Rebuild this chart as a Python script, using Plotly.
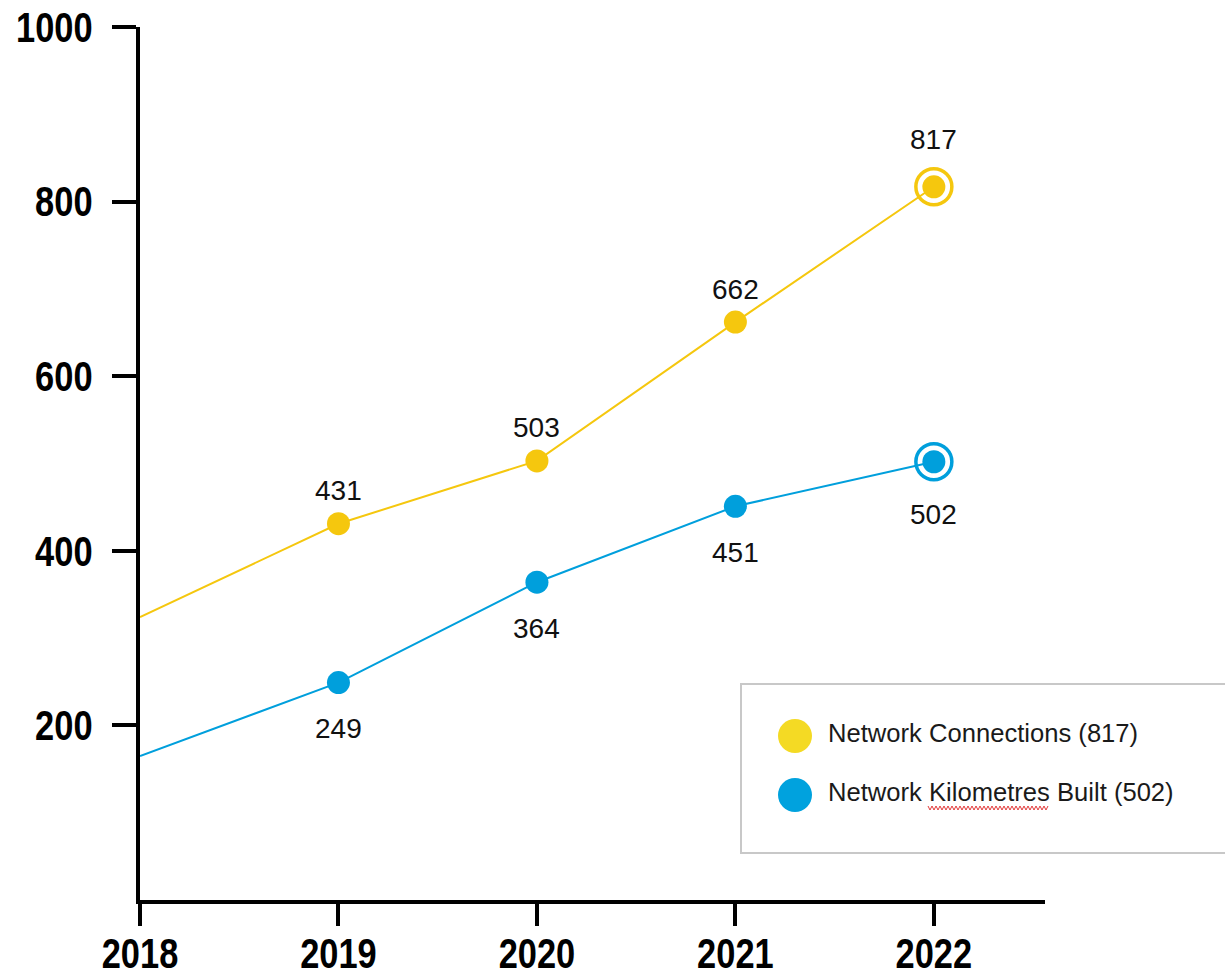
import plotly.graph_objects as go

years = [2018, 2019, 2020, 2021, 2022]
connections = [324, 431, 503, 662, 817]
kilometres = [165, 249, 364, 451, 502]
y_ticks = [200, 400, 600, 800, 1000]
legend_labels = ["Network Connections (817)", "Network Kilometres Built (502)"]

YELLOW = "#F5C70E"
BLUE = "#009FDC"
LEG_YELLOW = "#F4DA24"
LEG_BLUE = "#00A2DE"

TICK_FONT = dict(family="Liberation Sans, Arial, sans-serif",
                 size=42, color="black", weight="bold")
LABEL_FONT = dict(family="Liberation Sans, Arial, sans-serif", size=28, color="#111111")

fig = go.Figure()

def add_series(vals, color):
    sizes = [0] + [23] * (len(vals) - 1)
    fig.add_trace(go.Scatter(x=years, y=vals, mode="lines+markers",
                             line=dict(color=color, width=2),
                             marker=dict(size=sizes, color=color, opacity=1, line=dict(width=0)),
                             cliponaxis=False, showlegend=False, hoverinfo="skip"))
    fig.add_trace(go.Scatter(x=[years[-1]], y=[vals[-1]], mode="markers",
                             marker=dict(symbol="circle-open", size=36, color=color, opacity=1,
                                         line=dict(width=3.5, color=color)),
                             cliponaxis=False, showlegend=False, hoverinfo="skip"))

add_series(connections, YELLOW)
add_series(kilometres, BLUE)

for i in range(1, len(years)):
    last = i == len(years) - 1
    fig.add_annotation(x=years[i], y=connections[i], text=str(connections[i]),
                       showarrow=False, font=LABEL_FONT,
                       yshift=47 if last else 33)
    fig.add_annotation(x=years[i], y=kilometres[i], text=str(kilometres[i]),
                       showarrow=False, font=LABEL_FONT,
                       yshift=-53 if last else -46)

# legend box built from shapes
W, H = 905, 873
def px(x):
    return (x - 140) / W
def py(y):
    return (900 - y) / H

fig.add_shape(type="rect", xref="paper", yref="paper",
              x0=px(741), x1=px(1240), y0=py(853), y1=py(684),
              line=dict(color="#C8C8C8", width=2), fillcolor="white", layer="below")
for j, (col, cy) in enumerate([(LEG_YELLOW, 736), (LEG_BLUE, 795)]):
    fig.add_shape(type="circle", xref="paper", yref="paper",
                  x0=px(778), x1=px(812), y0=py(cy + 17), y1=py(cy - 17),
                  line=dict(width=0), fillcolor=col)
    fig.add_annotation(xref="paper", yref="paper", x=px(826), y=py(cy - 3),
                       xanchor="left", yanchor="middle", showarrow=False,
                       text=legend_labels[j],
                       font=dict(family="Liberation Sans, Arial, sans-serif", size=25.6, color="#1a1a1a"))

# spell-check style wavy underline under "Kilometres" (as in the reference screenshot)
pts = []
xw = 928
k = 0
while xw <= 1048:
    yy = 806 if k % 2 == 0 else 810
    pts.append(("M" if k == 0 else "L") + f"{px(xw):.5f},{py(yy):.5f}")
    xw += 2
    k += 1
fig.add_shape(type="path", xref="paper", yref="paper", path=" ".join(pts),
              line=dict(color="#E23B3B", width=1))

fig.update_layout(
    width=1225, height=976,
    margin=dict(l=140, r=180, t=27, b=76, autoexpand=False),
    paper_bgcolor="white", plot_bgcolor="white",
    xaxis=dict(range=[2018, 2022.56], tickmode="array", tickvals=years,
               ticktext=[str(y) for y in years], showgrid=False, zeroline=False,
               showline=True, linecolor="black", linewidth=4,
               ticks="outside", ticklen=22, tickwidth=4, tickcolor="black",
               tickfont=TICK_FONT, ticklabelstandoff=-8),
    yaxis=dict(range=[0, 1000], tickmode="array", tickvals=y_ticks,
               ticktext=[str(v) for v in y_ticks], showgrid=False, zeroline=False,
               showline=True, linecolor="black", linewidth=4,
               ticks="outside", ticklen=24, tickwidth=4, tickcolor="black",
               tickfont=TICK_FONT, ticklabelstandoff=11),
)

# condense the bold tick labels horizontally (the reference uses a narrow display face)
post = """
var gd = document.getElementById('{plot_id}');
function condense(){
  gd.querySelectorAll('.xtick text, .ytick text').forEach(function(t){
    if(!t.getAttribute('lengthAdjust')){
      var w = t.getComputedTextLength();
      t.setAttribute('textLength', (w*0.82).toFixed(1));
      t.setAttribute('lengthAdjust', 'spacingAndGlyphs');
    }
  });
}
condense();
"""

fig.write_html("out.html", post_script=post)
